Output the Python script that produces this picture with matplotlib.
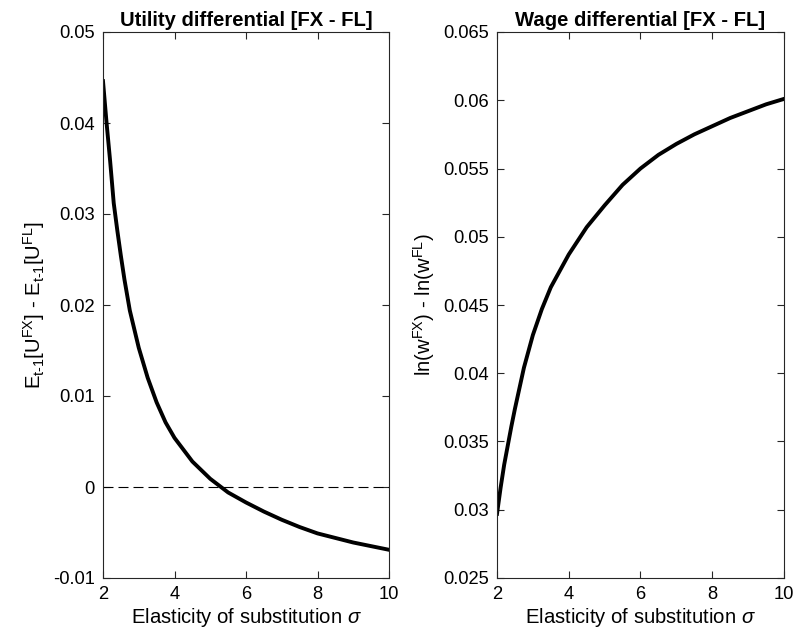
import numpy as np
import matplotlib
matplotlib.use('Agg')
import matplotlib.pyplot as plt

plt.rcParams['font.family'] = ['Liberation Sans', 'DejaVu Sans']
plt.rcParams['mathtext.fontset'] = 'custom'
plt.rcParams['mathtext.rm'] = 'Liberation Sans'
plt.rcParams['mathtext.it'] = 'Liberation Sans:italic'
plt.rcParams['mathtext.default'] = 'regular'

# elasticity of substitution sigma
sigma_u = [2.0, 2.1, 2.2, 2.3, 2.4, 2.5, 2.6, 2.75, 3.0, 3.25, 3.5, 3.75, 4.0, 4.5, 5.0,
           5.5, 6.0, 6.5, 7.0, 7.5, 8.0, 9.0, 10.0]
utility_diff = [0.0446, 0.0400, 0.0358, 0.0312, 0.0282, 0.0254, 0.0228, 0.0194, 0.0153, 0.0120,
                0.0093, 0.0071, 0.0054, 0.0028, 0.0009, -0.0006, -0.0017, -0.0027, -0.0036,
                -0.0044, -0.0051, -0.0061, -0.0069]

sigma_w = [2.0, 2.1, 2.2, 2.3, 2.4, 2.5, 2.6, 2.75, 3.0, 3.25, 3.5, 4.0, 4.5, 5.0, 5.5, 6.0,
           6.5, 7.0, 7.5, 8.0, 8.5, 9.0, 9.5, 10.0]
wage_diff = [0.0297, 0.0316, 0.0333, 0.0347, 0.0361, 0.0374, 0.0386, 0.0404, 0.0428, 0.0447,
             0.0463, 0.0487, 0.0507, 0.0523, 0.0538, 0.0550, 0.0560, 0.0568, 0.0575, 0.0581,
             0.0587, 0.0592, 0.0597, 0.0601]

fig = plt.figure(figsize=(7.97, 6.41), dpi=100)
ax1 = fig.add_axes([103/797, 1 - 578/641, 286/797, 546/641])
ax2 = fig.add_axes([497/797, 1 - 578/641, 287/797, 546/641])

fs_tick = 13.2
fs_lab = 14.6

def style(ax):
    ax.tick_params(direction='in', top=True, right=True, length=5, width=0.8, pad=6,
                   labelsize=fs_tick, colors='#262626', labelcolor='black')
    for s in ax.spines.values():
        s.set_color('#262626')
        s.set_linewidth(0.8)
    ax.set_xlim(2, 10)
    ax.set_xticks([2, 4, 6, 8, 10])
    ax.set_xlabel(r'Elasticity of substitution $\mathit{\sigma}$', fontsize=fs_lab, labelpad=2)

ax1.plot(sigma_u, utility_diff, color='black', lw=2.8, solid_joinstyle='round')
ax1.axhline(0, color='black', lw=0.8, ls=(0, (9, 4.5)))
ax1.set_ylim(-0.01, 0.05)
ax1.set_yticks([-0.01, 0, 0.01, 0.02, 0.03, 0.04, 0.05])
ax1.set_yticklabels(['-0.01', '0', '0.01', '0.02', '0.03', '0.04', '0.05'])
ax1.set_ylabel(r'$E_{t\text{-}1}[U^{FX}]$ - $E_{t\text{-}1}[U^{FL}]$', fontsize=fs_lab, labelpad=4)
ax1.set_title('Utility differential [FX - FL]', fontsize=fs_lab, fontweight='bold', pad=4)
style(ax1)

ax2.plot(sigma_w, wage_diff, color='black', lw=2.8, solid_joinstyle='round')
ax2.set_ylim(0.025, 0.065)
ax2.set_yticks([0.025, 0.03, 0.035, 0.04, 0.045, 0.05, 0.055, 0.06, 0.065])
ax2.set_yticklabels(['0.025', '0.03', '0.035', '0.04', '0.045', '0.05', '0.055', '0.06', '0.065'])
ax2.set_ylabel(r'ln($w^{FX}$) - ln($w^{FL}$)', fontsize=fs_lab, labelpad=4)
ax2.set_title('Wage differential [FX - FL]', fontsize=fs_lab, fontweight='bold', pad=4)
style(ax2)

fig.savefig('out.png', dpi=100)
